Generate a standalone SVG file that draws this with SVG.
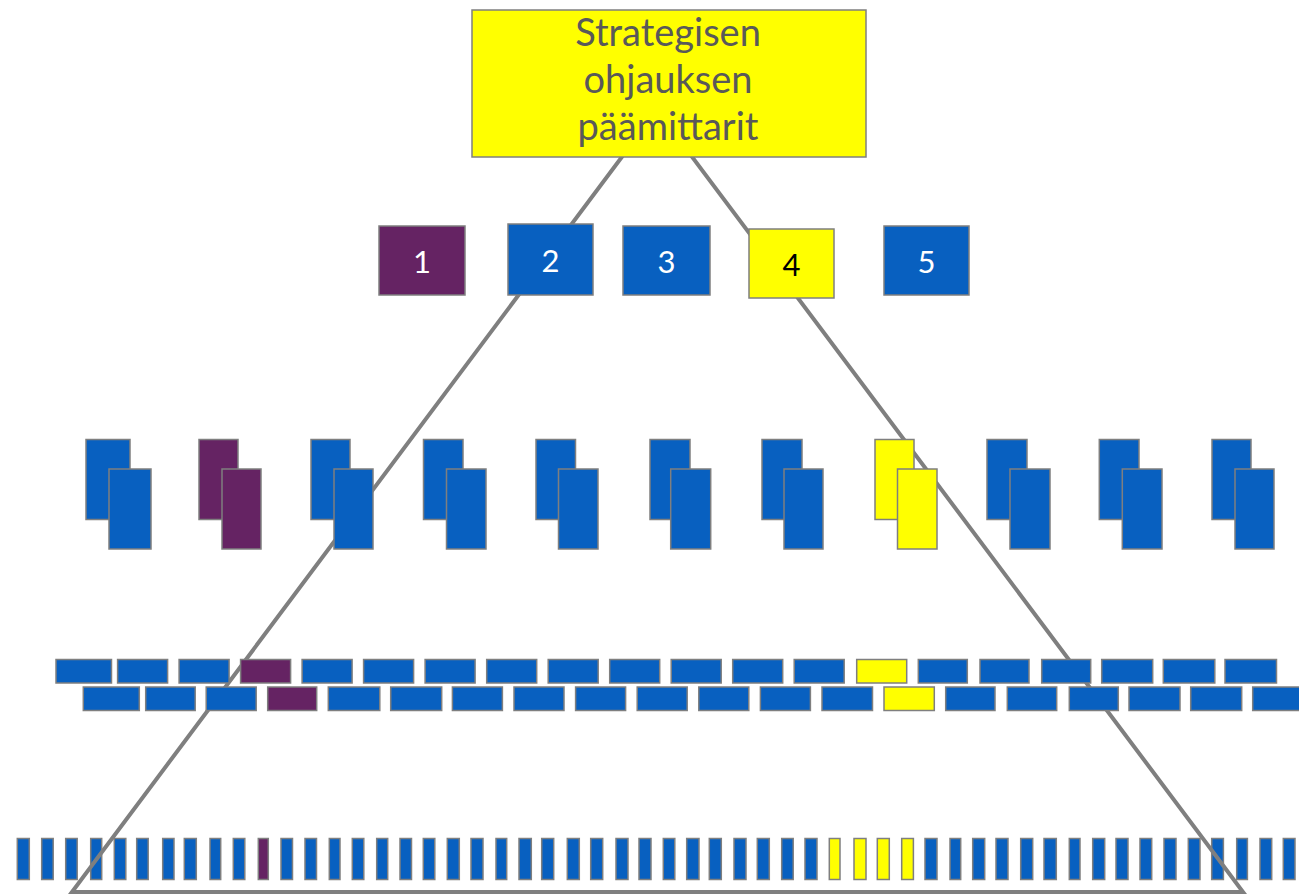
<svg xmlns="http://www.w3.org/2000/svg" width="1299" height="895" viewBox="0 0 1299 895">
<defs>
<style>
.b{fill:#0860C0;stroke:#7f7f7f;stroke-width:1.5}
.p{fill:#652363;stroke:#7f7f7f;stroke-width:1.5}
.y{fill:#FFFF00;stroke:#7f7f7f;stroke-width:1.5}
.tri{fill:none;stroke:#7f7f7f;stroke-width:4;stroke-linejoin:miter}
.title{font-family:Lato,"Open Sans",sans-serif;font-size:38px;fill:#595959;text-anchor:middle}
.num{font-family:Lato,"Open Sans",sans-serif;font-size:31px;text-anchor:middle}
</style>
</defs>
<rect width="1299" height="895" fill="#ffffff"/>

<g id="row5">
<rect class="b" x="17.3" y="838.5" width="12" height="41"/>
<rect class="b" x="41.7" y="838.5" width="11.5" height="41"/>
<rect class="b" x="65.7" y="838.5" width="11.5" height="41"/>
<rect class="b" x="90.7" y="838.5" width="11" height="41"/>
<rect class="b" x="114.3" y="838.5" width="11.5" height="41"/>
<rect class="b" x="136.7" y="838.5" width="11.5" height="41"/>
<rect class="b" x="162.7" y="838.5" width="11.3" height="41"/>
<rect class="b" x="184.3" y="838.5" width="12" height="41"/>
<rect class="b" x="210" y="838.5" width="10.7" height="41"/>
<rect class="b" x="233.3" y="838.5" width="11.5" height="41"/>
<rect class="p" x="258.3" y="838.5" width="10" height="41"/>
<rect class="b" x="281" y="838.5" width="11.5" height="41"/>
<rect class="b" x="305" y="838.5" width="11.5" height="41"/>
<rect class="b" x="329.3" y="838.5" width="10.7" height="41"/>
<rect class="b" x="352.3" y="838.5" width="11.5" height="41"/>
<rect class="b" x="376.7" y="838.5" width="11" height="41"/>
<rect class="b" x="400" y="838.5" width="11.5" height="41"/>
<rect class="b" x="423.3" y="838.5" width="11.5" height="41"/>
<rect class="b" x="447.3" y="838.5" width="12" height="41"/>
<rect class="b" x="471" y="838.5" width="12" height="41"/>
<rect class="b" x="496" y="838.5" width="10.7" height="41"/>
<rect class="b" x="519" y="838.5" width="12.3" height="41"/>
<rect class="b" x="541.7" y="838.5" width="12" height="41"/>
<rect class="b" x="567.3" y="838.5" width="12" height="41"/>
<rect class="b" x="590.7" y="838.5" width="12" height="41"/>
<rect class="b" x="616" y="838.5" width="12" height="41"/>
<rect class="b" x="639" y="838.5" width="12" height="41"/>
<rect class="b" x="663.3" y="838.5" width="11.5" height="41"/>
<rect class="b" x="686.7" y="838.5" width="12.3" height="41"/>
<rect class="b" x="709.3" y="838.5" width="12" height="41"/>
<rect class="b" x="734" y="838.5" width="12" height="41"/>
<rect class="b" x="757.3" y="838.5" width="12" height="41"/>
<rect class="b" x="781.7" y="838.5" width="11.5" height="41"/>
<rect class="b" x="805" y="838.5" width="12" height="41"/>
<rect class="y" x="829.3" y="838.5" width="10.7" height="41"/>
<rect class="y" x="854" y="838.5" width="12" height="41"/>
<rect class="y" x="877.3" y="838.5" width="12" height="41"/>
<rect class="y" x="901.7" y="838.5" width="11.7" height="41"/>
<rect class="b" x="925" y="838.5" width="12" height="41"/>
<rect class="b" x="950" y="838.5" width="10.7" height="41"/>
<rect class="b" x="972.7" y="838.5" width="12" height="41"/>
<rect class="b" x="996" y="838.5" width="12" height="41"/>
<rect class="b" x="1020.7" y="838.5" width="12" height="41"/>
<rect class="b" x="1044" y="838.5" width="12.3" height="41"/>
<rect class="b" x="1069.3" y="838.5" width="10.7" height="41"/>
<rect class="b" x="1092.7" y="838.5" width="12" height="41"/>
<rect class="b" x="1116" y="838.5" width="12" height="41"/>
<rect class="b" x="1140" y="838.5" width="11.7" height="41"/>
<rect class="b" x="1164" y="838.5" width="12" height="41"/>
<rect class="b" x="1188.3" y="838.5" width="11.7" height="41"/>
<rect class="b" x="1211.7" y="838.5" width="11.7" height="41"/>
<rect class="b" x="1236.7" y="838.5" width="10.7" height="41"/>
<rect class="b" x="1260" y="838.5" width="11.7" height="41"/>
<rect class="b" x="1283.3" y="838.5" width="11.7" height="41"/>
</g>

<g id="connectors">
<polygon class="tri" points="657,110 72,892 1243,892"/>
</g>

<g id="row4a">
<rect class="b" x="56" y="659.5" width="55.5" height="23.5"/>
<rect class="b" x="117.6" y="659.5" width="50" height="23.5"/>
<rect class="b" x="179.1" y="659.5" width="50" height="23.5"/>
<rect class="p" x="240.6" y="659.5" width="50" height="23.5"/>
<rect class="b" x="302.1" y="659.5" width="50" height="23.5"/>
<rect class="b" x="363.6" y="659.5" width="50" height="23.5"/>
<rect class="b" x="425.1" y="659.5" width="50" height="23.5"/>
<rect class="b" x="486.7" y="659.5" width="50" height="23.5"/>
<rect class="b" x="548.2" y="659.5" width="50" height="23.5"/>
<rect class="b" x="609.7" y="659.5" width="50" height="23.5"/>
<rect class="b" x="671.2" y="659.5" width="50" height="23.5"/>
<rect class="b" x="732.7" y="659.5" width="50" height="23.5"/>
<rect class="b" x="794.2" y="659.5" width="50" height="23.5"/>
<rect class="y" x="856.7" y="659.5" width="50" height="23.5"/>
<rect class="b" x="918.3" y="659.5" width="49" height="23.5"/>
<rect class="b" x="980" y="659.5" width="49" height="23.5"/>
<rect class="b" x="1041.7" y="659.5" width="49" height="23.5"/>
<rect class="b" x="1101.7" y="659.5" width="51" height="23.5"/>
<rect class="b" x="1163.3" y="659.5" width="51.5" height="23.5"/>
<rect class="b" x="1225" y="659.5" width="51.5" height="23.5"/>
</g>

<g id="row4b">
<rect class="b" x="83.3" y="687" width="56" height="23.5"/>
<rect class="b" x="145.7" y="687" width="49.5" height="23.5"/>
<rect class="b" x="206.2" y="687" width="50" height="23.5"/>
<rect class="p" x="267.7" y="687" width="49" height="23.5"/>
<rect class="b" x="328.3" y="687" width="51.5" height="23.5"/>
<rect class="b" x="390.7" y="687" width="51" height="23.5"/>
<rect class="b" x="452.4" y="687" width="50" height="23.5"/>
<rect class="b" x="514" y="687" width="50" height="23.5"/>
<rect class="b" x="575.6" y="687" width="50" height="23.5"/>
<rect class="b" x="637.2" y="687" width="50" height="23.5"/>
<rect class="b" x="698.8" y="687" width="50" height="23.5"/>
<rect class="b" x="760.4" y="687" width="50" height="23.5"/>
<rect class="b" x="822" y="687" width="50.5" height="23.5"/>
<rect class="y" x="884" y="687" width="50.3" height="23.5"/>
<rect class="b" x="945.7" y="687" width="49.3" height="23.5"/>
<rect class="b" x="1007.3" y="687" width="49.4" height="23.5"/>
<rect class="b" x="1069.3" y="687" width="49" height="23.5"/>
<rect class="b" x="1129" y="687" width="51" height="23.5"/>
<rect class="b" x="1190.7" y="687" width="51" height="23.5"/>
<rect class="b" x="1252.7" y="687" width="51" height="23.5"/>
</g>

<g id="row3">
<g id="pair1"><rect class="b" x="86" y="439.5" width="44" height="80"/><rect class="b" x="109" y="469" width="42" height="80"/></g>
<g id="pair2"><rect class="p" x="199" y="439.5" width="39" height="80"/><rect class="p" x="222" y="469" width="39" height="80"/></g>
<g id="pair3"><rect class="b" x="311" y="439.5" width="39" height="80"/><rect class="b" x="334" y="469" width="39" height="80"/></g>
<g id="pair4"><rect class="b" x="423.5" y="439.5" width="39.5" height="80"/><rect class="b" x="446.5" y="469" width="39.5" height="80"/></g>
<g id="pair5"><rect class="b" x="536" y="439.5" width="39.5" height="80"/><rect class="b" x="558.5" y="469" width="39.5" height="80"/></g>
<g id="pair6"><rect class="b" x="650" y="439.5" width="40" height="80"/><rect class="b" x="670.7" y="469" width="40" height="80"/></g>
<g id="pair7"><rect class="b" x="762" y="439.5" width="40" height="80"/><rect class="b" x="784" y="469" width="39" height="80"/></g>
<g id="pair8"><rect class="y" x="875" y="439.5" width="39" height="80"/><rect class="y" x="897.5" y="469" width="39.5" height="80"/></g>
<g id="pair9"><rect class="b" x="987" y="439.5" width="40" height="80"/><rect class="b" x="1010" y="469" width="40" height="80"/></g>
<g id="pair10"><rect class="b" x="1099.3" y="439.5" width="39.7" height="80"/><rect class="b" x="1122.3" y="469" width="39.7" height="80"/></g>
<g id="pair11"><rect class="b" x="1212" y="439.5" width="39" height="80"/><rect class="b" x="1235" y="469" width="39" height="80"/></g>
</g>

<g id="box1"><rect class="p" x="379" y="226" width="86" height="69"/><text class="num" x="422" y="273" fill="#ffffff">1</text></g>
<g id="box2"><rect class="b" x="508" y="224" width="85" height="71"/><text class="num" x="550.5" y="272" fill="#ffffff">2</text></g>
<g id="box3"><rect class="b" x="623" y="226" width="87" height="69"/><text class="num" x="666.5" y="273" fill="#ffffff">3</text></g>
<g id="box4"><rect class="y" x="749" y="229" width="85" height="69"/><text class="num" x="791.5" y="276" fill="#000000">4</text></g>
<g id="box5"><rect class="b" x="884" y="226" width="85" height="69"/><text class="num" x="926.5" y="273" fill="#ffffff">5</text></g>

<g id="top">
<rect class="y" x="472" y="10" width="394" height="147"/>
<text class="title" x="668" y="46">Strategisen</text>
<text class="title" x="668" y="93">ohjauksen</text>
<text class="title" x="668" y="140">päämittarit</text>
</g>
</svg>
